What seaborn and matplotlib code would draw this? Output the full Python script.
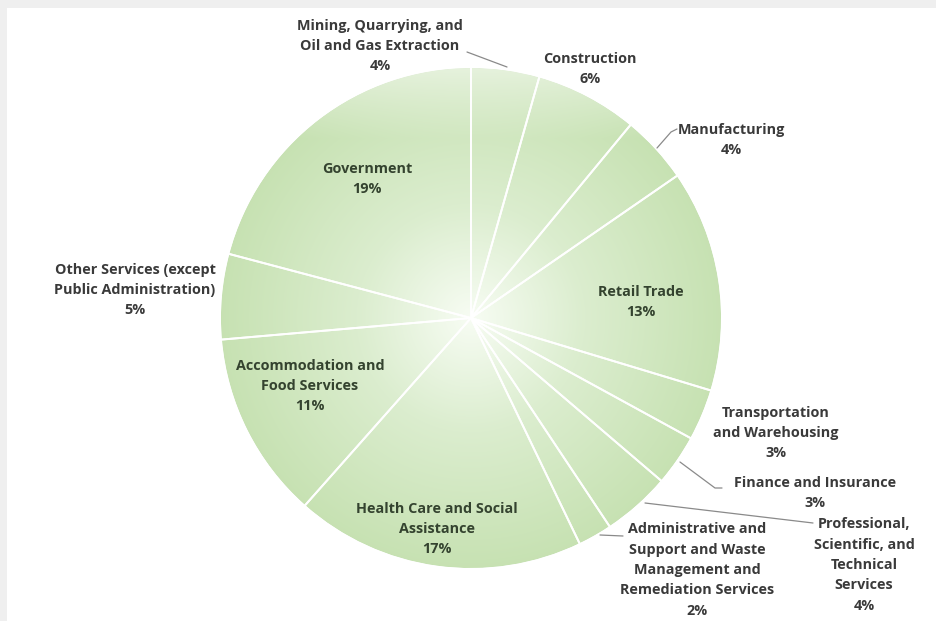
import numpy as np
import matplotlib
matplotlib.use("Agg")
import matplotlib.pyplot as plt
import seaborn as sns
from matplotlib.patches import Circle, Rectangle

# ---- data ----
categories = [
    "Mining, Quarrying, and\nOil and Gas Extraction",
    "Construction",
    "Manufacturing",
    "Retail Trade",
    "Transportation\nand Warehousing",
    "Finance and Insurance",
    "Professional,\nScientific, and\nTechnical\nServices",
    "Administrative and\nSupport and Waste\nManagement and\nRemediation Services",
    "Health Care and Social\nAssistance",
    "Accommodation and\nFood Services",
    "Other Services (except\nPublic Administration)",
    "Government",
]
shares = [4, 6, 4, 13, 3, 3, 4, 2, 17, 11, 5, 19]

# ---- layout (pixel coords, y downward) ----
W, H = 936, 621
CX, CY, R = 471, 318, 250
label_pos = [
    (380, 46), (590, 69), (731, 140), (641, 302), (776, 433), (815, 493),
    (864, 565), (697, 570), (437, 529), (310, 386), (135, 290), (367, 179),
]
inside = [False, False, False, True, False, False, False, False, True, True, False, True]
leaders = [
    [(467, 52), (507, 67)],
    None,
    [(657, 148), (671, 132), (677, 129)],
    None,
    None,
    [(680, 462), (715, 488), (722, 488)],
    [(645, 503), (813, 523)],
    [(600, 535), (623, 536)],
    None, None, None, None,
]

sns.set_theme(style="white")
plt.rcParams["font.family"] = ["Open Sans", "DejaVu Sans"]

fig = plt.figure(figsize=(W / 100, H / 100), dpi=100)
ax = fig.add_axes([0, 0, 1, 1])


def fix_axes():
    ax.set_xlim(0, W)
    ax.set_ylim(H, 0)
    ax.set_aspect("equal")
    ax.axis("off")


fix_axes()

# border strips
ax.add_patch(Rectangle((0, 0), W, 8, color="#efefef", zorder=0, lw=0))
ax.add_patch(Rectangle((0, 0), 7, H, color="#efefef", zorder=0, lw=0))

green = sns.light_palette("#a9d18e", n_colors=5)[2]

# base wedges
wedges, _ = ax.pie(shares, startangle=-90, counterclock=True, center=(CX, CY),
                   radius=R, colors=[green] * len(shares),
                   wedgeprops=dict(linewidth=0), frame=True)
fix_axes()
for w in wedges:
    w.set_zorder(1)

# radial gradient overlay clipped to pie
n = 400
yy, xx = np.mgrid[-1:1:n * 1j, -1:1:n * 1j]
t = np.clip(np.sqrt(xx ** 2 + yy ** 2), 0, 1)
c0 = np.array([0.97, 0.99, 0.955])
c1 = np.array([0.86, 0.93, 0.81])
c2 = np.array([0.78, 0.885, 0.70])
img = np.where(t[..., None] < 0.45,
               c0 + (c1 - c0) * (t[..., None] / 0.45),
               c1 + (c2 - c1) * ((t[..., None] - 0.45) / 0.55))
fade = np.clip((-yy - 0.72) / 0.28, 0, 1) * 0.55
img = img + (1 - img) * fade[..., None]
im = ax.imshow(img, extent=(CX - R, CX + R, CY + R, CY - R), origin="upper",
               zorder=2, interpolation="bilinear")
clip = Circle((CX, CY), R, transform=ax.transData)
im.set_clip_path(clip)

# white separators
wedges2, _ = ax.pie(shares, startangle=-90, counterclock=True, center=(CX, CY),
                    radius=R + 1, colors=["none"] * len(shares),
                    wedgeprops=dict(linewidth=1.4, edgecolor="white", fill=False),
                    frame=True)
fix_axes()
for w in wedges2:
    w.set_zorder(3)

# labels
for cat, s, (x, y), ins in zip(categories, shares, label_pos, inside):
    ax.text(x, y, f"{cat}\n{s}%", ha="center", va="center", fontsize=10.4,
            fontweight="bold", color="#34432f" if ins else "#3a3a3a",
            linespacing=1.58, zorder=5)

for ld in leaders:
    if ld:
        xs, ys = zip(*ld)
        ax.plot(xs, ys, color="#8a8a8a", lw=0.9, zorder=4)

fig.savefig("out.png", dpi=100)
